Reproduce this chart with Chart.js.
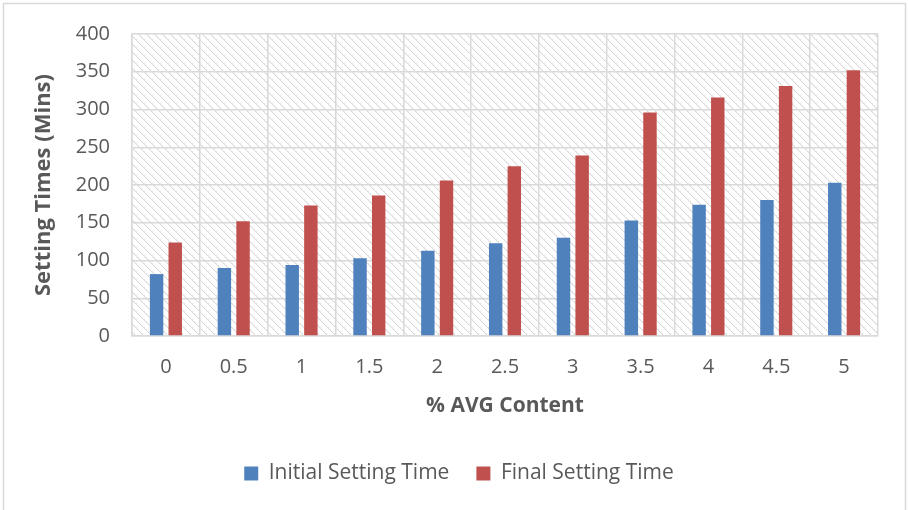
<!DOCTYPE html>
<html>
<head>
<meta charset="utf-8">
<script src="https://cdn.jsdelivr.net/npm/chart.js@4"></script>
<style>
  html, body { margin: 0; padding: 0; background: #fff; }
  canvas { display: block; }
</style>
</head>
<body>
<canvas id="barChart" width="908" height="510"></canvas>
<script>
"use strict";

// values
var avg_content = ["0", "0.5", "1", "1.5", "2", "2.5", "3", "3.5", "4", "4.5", "5"];
var initial_setting = [82, 90, 94, 103, 113, 123, 130, 153, 174, 180, 203];
var final_setting = [124, 152, 173, 186, 206, 225, 239, 296, 316, 331, 352];

var text_color = "#595959";
var grid_color = "#d9d9d9";
var font_family = "'Open Sans', 'Noto Sans', sans-serif";

// excel style "wide downward diagonal" fill behind the plot
function make_hatch(){
    var c = document.createElement("canvas");
    c.width = 8;
    c.height = 8;
    var g = c.getContext("2d");
    g.fillStyle = "#ffffff";
    g.fillRect(0, 0, 8, 8);
    for (var y = 0; y < 8; y++) {
        for (var x = 0; x < 8; x++) {
            var d = ((x - y) % 8 + 8) % 8;
            if (d == 0) {
                g.fillStyle = "#d8d8d8";
                g.fillRect(x, y, 1, 1);
            } else if (d == 1 && x % 2 == 0) {
                g.fillStyle = "#e4e4e4";
                g.fillRect(x, y, 1, 1);
            }
        }
    }
    return c;
}

var backdrop = {
    id: "backdrop",
    afterLayout: function(chart){
        // legend sits centred on the whole frame, not on the plot
        if (chart.legend) {
            chart.legend.left += 20;
            chart.legend.right += 20;
        }
    },
    beforeDraw: function(chart){
        var ctx = chart.ctx;
        var a = chart.chartArea;
        ctx.save();
        ctx.fillStyle = "#ffffff";
        ctx.fillRect(0, 0, chart.width, chart.height);
        ctx.strokeStyle = grid_color;
        ctx.lineWidth = 1.5;
        ctx.strokeRect(3.5, 3.5, chart.width - 6, chart.height + 20);
        ctx.fillStyle = ctx.createPattern(make_hatch(), "repeat");
        ctx.fillRect(a.left, a.top, a.right - a.left, a.bottom - a.top);
        ctx.restore();
    }
};

var ctx = document.getElementById("barChart").getContext("2d");
new Chart(ctx, {
    type: "bar",
    data: {
        labels: avg_content,
        datasets: [
            {
                label: "Initial Setting Time",
                data: initial_setting,
                backgroundColor: "#4f81bd",
                categoryPercentage: 0.55,
                barPercentage: 0.72
            },
            {
                label: "Final Setting Time",
                data: final_setting,
                backgroundColor: "#c0504d",
                categoryPercentage: 0.55,
                barPercentage: 0.72
            }
        ]
    },
    options: {
        responsive: false,
        devicePixelRatio: 1,
        animation: false,
        layout: { padding: { top: 33, right: 30, bottom: 16, left: 0 } },
        plugins: {
            legend: {
                position: "bottom",
                labels: {
                    color: text_color,
                    font: { family: font_family, size: 21 },
                    boxWidth: 14,
                    boxHeight: 14,
                    padding: 27
                }
            },
            tooltip: { enabled: false }
        },
        scales: {
            x: {
                grid: { color: grid_color, lineWidth: 1.5, drawTicks: false },
                border: { color: grid_color, width: 1.5 },
                ticks: {
                    color: text_color,
                    font: { family: font_family, size: 20 },
                    padding: 19
                },
                title: {
                    display: true,
                    text: "% AVG Content",
                    color: text_color,
                    font: { family: font_family, size: 21, weight: "bold" },
                    padding: { top: 0, bottom: 17 }
                },
                afterFit: function(scale){ scale.height = 100; }
            },
            y: {
                min: 0,
                max: 400,
                grid: { color: grid_color, lineWidth: 1.5, drawTicks: false },
                border: { color: grid_color, width: 1.5 },
                ticks: {
                    stepSize: 50,
                    color: text_color,
                    font: { family: font_family, size: 20 },
                    padding: 22
                },
                title: {
                    display: true,
                    text: "Setting Times (Mins)",
                    color: text_color,
                    font: { family: font_family, size: 22, weight: "bold" },
                    padding: { top: 31, bottom: 0 }
                },
                afterFit: function(scale){ scale.width = 132; }
            }
        }
    },
    plugins: [backdrop]
});
</script>
</body>
</html>
